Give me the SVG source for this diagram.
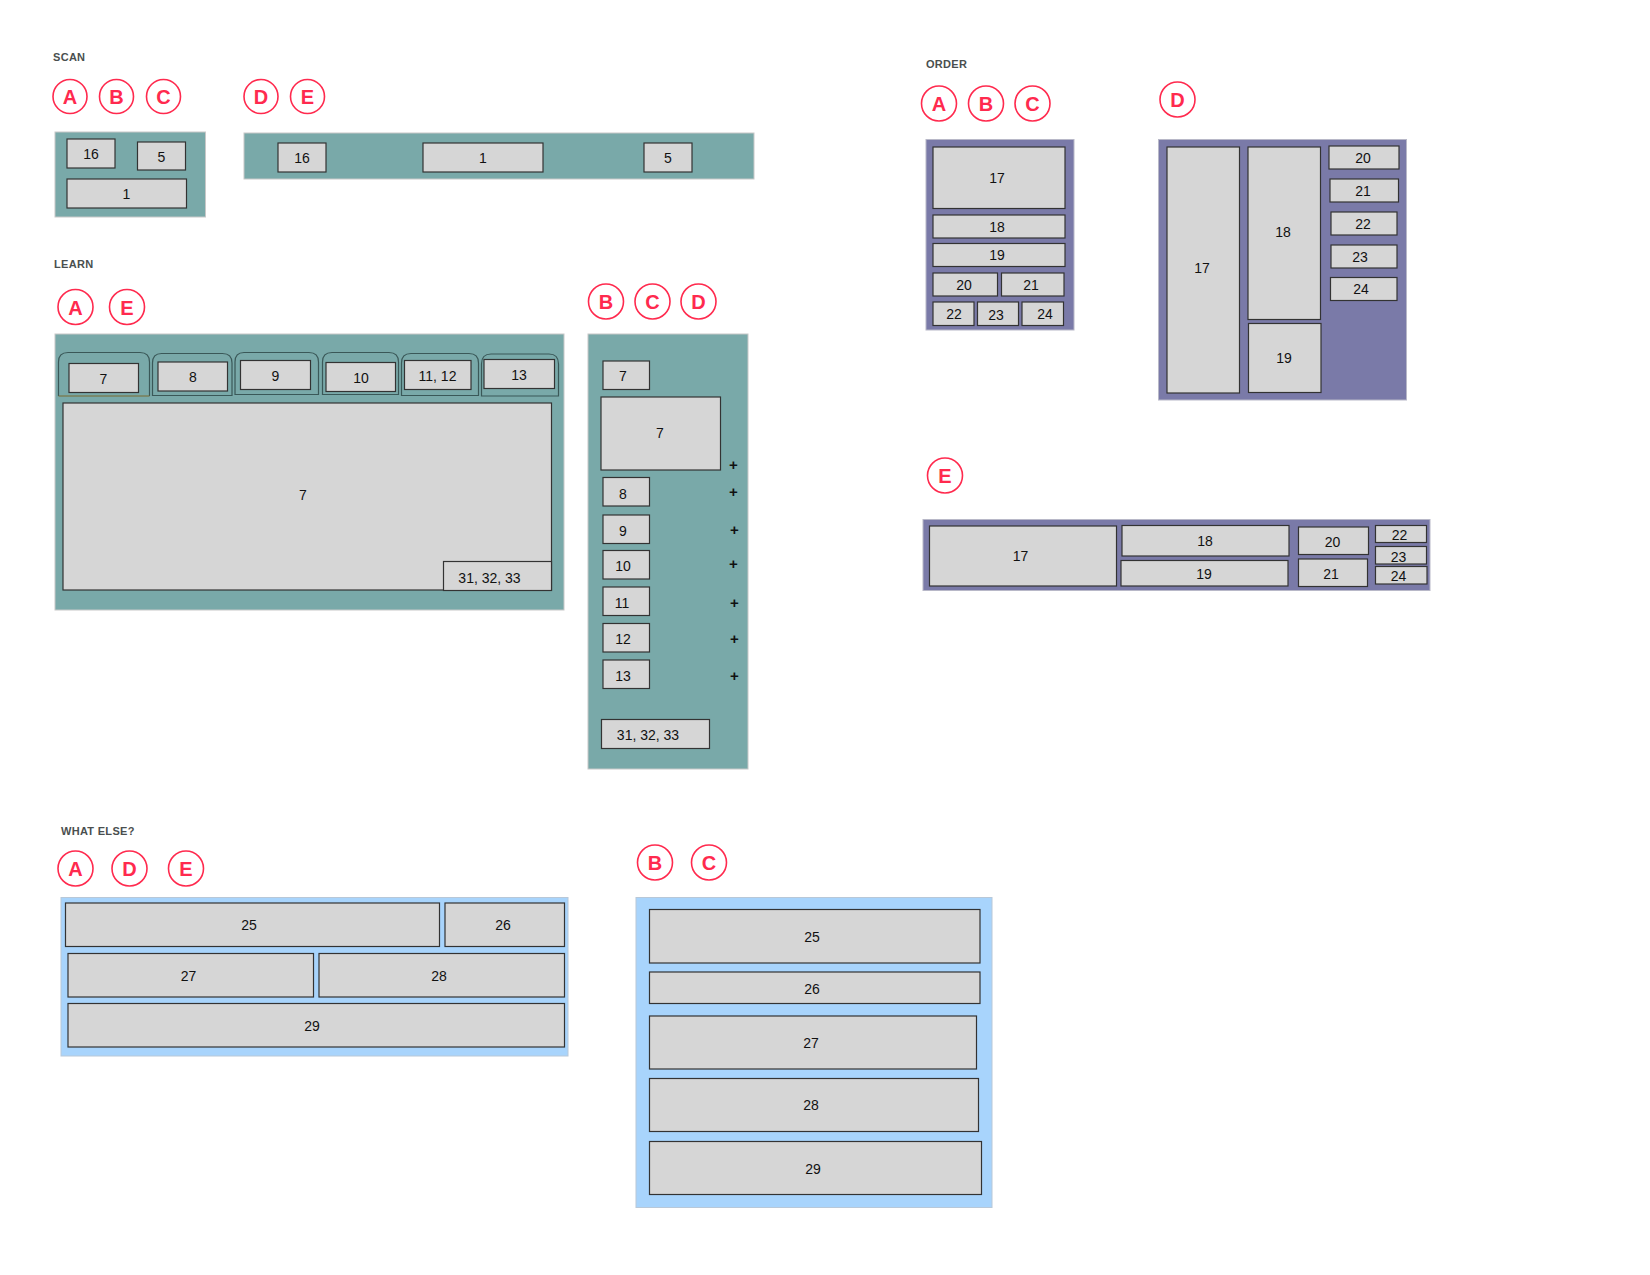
<svg xmlns="http://www.w3.org/2000/svg" width="1650" height="1275" viewBox="0 0 1650 1275">
<style>
.bg{fill:#ffffff}
.teal{fill:#79a9a9;stroke:#c8c8c8;stroke-width:1}
.purple{fill:#7a7aa8;stroke:#b8b8c8;stroke-width:1}
.blue{fill:#a8d4fc;stroke:#b8c8d8;stroke-width:1}
.item{fill:#d6d6d6;stroke:#333333;stroke-width:1.2}
.tab{fill:#79a9a9;stroke:#3a5858;stroke-width:1.2}
.lbl{font-family:"Liberation Sans",Arial,sans-serif;font-size:14px;fill:#111111;text-anchor:middle;dominant-baseline:central}
.sec{font-family:"Liberation Sans",Arial,sans-serif;font-size:11px;font-weight:bold;fill:#4a4f4f;letter-spacing:0.3px}
.badge circle{fill:#ffffff;stroke:#ff2a4e;stroke-width:1.6}
.badge text{font-family:"Liberation Sans",Arial,sans-serif;font-size:20px;font-weight:bold;fill:#ff2a4e;text-anchor:middle;dominant-baseline:central}
.plus{font-family:"Liberation Sans",Arial,sans-serif;font-size:15px;font-weight:bold;fill:#111111;text-anchor:middle;dominant-baseline:central}
</style>
<rect class="bg" x="0" y="0" width="1650" height="1275"/>

<!-- SCAN -->
<g id="scan">
<text class="sec" x="53" y="61">SCAN</text>
<g class="badge" id="scan-badges">
<circle cx="70" cy="96.5" r="17"/><text x="70" y="97">A</text>
<circle cx="116.5" cy="96.5" r="17"/><text x="116.5" y="97">B</text>
<circle cx="163.5" cy="96.5" r="17"/><text x="163.5" y="97">C</text>
<circle cx="261" cy="96.5" r="17"/><text x="261" y="97">D</text>
<circle cx="307.5" cy="96.5" r="17"/><text x="307.5" y="97">E</text>
</g>
<g id="scan-abc">
<rect class="teal" x="55" y="132" width="150.5" height="85"/>
<rect class="item" x="67" y="139" width="48" height="29"/><text class="lbl" x="91" y="154">16</text>
<rect class="item" x="137.5" y="142" width="48" height="28"/><text class="lbl" x="161.5" y="157">5</text>
<rect class="item" x="67" y="179" width="119.5" height="29"/><text class="lbl" x="126.5" y="194">1</text>
</g>
<g id="scan-de">
<rect class="teal" x="244" y="133" width="510" height="46"/>
<rect class="item" x="278" y="143" width="48" height="29"/><text class="lbl" x="302" y="158">16</text>
<rect class="item" x="423" y="143" width="120" height="29"/><text class="lbl" x="483" y="158">1</text>
<rect class="item" x="644" y="143" width="48" height="29"/><text class="lbl" x="668" y="158">5</text>
</g>
</g>

<!-- LEARN -->
<g id="learn">
<text class="sec" x="54" y="268">LEARN</text>
<g class="badge" id="learn-badges-ae">
<circle cx="75.5" cy="307" r="17.5"/><text x="75.5" y="307.5">A</text>
<circle cx="127" cy="307" r="17.5"/><text x="127" y="307.5">E</text>
</g>
<g id="learn-ae">
<rect class="teal" x="55" y="334" width="509" height="276"/>
<path class="tab" d="M58.5,396 V362 Q58.5,352.5 68,352.5 H140 Q149.5,352.5 149.5,362 V396"/>
<line x1="58.5" y1="396" x2="149.5" y2="396" stroke="#7a6a30" stroke-width="1"/>
<rect class="item" x="69" y="363.5" width="69.5" height="29"/><text class="lbl" x="103.5" y="379">7</text>
<path class="tab" d="M152.5,395.5 V363 Q152.5,353.5 161.5,353.5 H222.5 Q232,353.5 232,363 V395.5 Z"/>
<rect class="item" x="158" y="362" width="69.5" height="29"/><text class="lbl" x="193" y="377">8</text>
<path class="tab" d="M235,394.5 V362 Q235,352.5 244,352.5 H309 Q318.5,352.5 318.5,362 V394.5 Z"/>
<rect class="item" x="240.5" y="360.5" width="70" height="29"/><text class="lbl" x="275.5" y="375.5">9</text>
<path class="tab" d="M322.5,394.5 V362 Q322.5,352.5 332,352.5 H389 Q398.5,352.5 398.5,362 V394.5 Z"/>
<rect class="item" x="326" y="362.5" width="69.5" height="29"/><text class="lbl" x="361" y="378">10</text>
<path class="tab" d="M401.5,395.5 V363 Q401.5,353.5 411,353.5 H469 Q478.5,353.5 478.5,363 V395.5 Z"/>
<rect class="item" x="404.5" y="360.5" width="66.5" height="29"/><text class="lbl" x="437.5" y="376">11, 12</text>
<path class="tab" d="M481.5,396 V364 Q481.5,354 491,354 H549 Q558.5,354 558.5,364 V396 Z"/>
<rect class="item" x="484" y="359.5" width="70.5" height="29"/><text class="lbl" x="519" y="375">13</text>
<rect class="item" x="63" y="403" width="488.5" height="187"/><text class="lbl" x="303" y="495">7</text>
<rect class="item" x="443.5" y="561.5" width="108" height="29"/><text class="lbl" x="489.5" y="578">31, 32, 33</text>
</g>
<g class="badge" id="learn-badges-bcd">
<circle cx="606" cy="301.5" r="17.5"/><text x="606" y="302">B</text>
<circle cx="652.5" cy="301.5" r="17.5"/><text x="652.5" y="302">C</text>
<circle cx="698.5" cy="301.5" r="17.5"/><text x="698.5" y="302">D</text>
</g>
<g id="learn-bcd">
<rect class="teal" x="588" y="334" width="160" height="435"/>
<rect class="item" x="603" y="361" width="46.5" height="28.5"/><text class="lbl" x="623" y="376">7</text>
<rect class="item" x="601" y="397" width="119.5" height="73"/><text class="lbl" x="660" y="433">7</text>
<rect class="item" x="603" y="477.5" width="46.5" height="28.5"/><text class="lbl" x="623" y="494">8</text>
<rect class="item" x="603" y="515" width="46.5" height="28.5"/><text class="lbl" x="623" y="531">9</text>
<rect class="item" x="603" y="550.5" width="46.5" height="28.5"/><text class="lbl" x="623" y="566">10</text>
<rect class="item" x="603" y="587" width="46.5" height="28.5"/><text class="lbl" x="622" y="603">11</text>
<rect class="item" x="603" y="623.5" width="46.5" height="28.5"/><text class="lbl" x="623" y="639">12</text>
<rect class="item" x="603" y="660" width="46.5" height="28.5"/><text class="lbl" x="623" y="676">13</text>
<rect class="item" x="601.5" y="719.5" width="108" height="29"/><text class="lbl" x="648" y="735">31, 32, 33</text>
<text class="plus" x="733.5" y="464">+</text>
<text class="plus" x="733.5" y="491">+</text>
<text class="plus" x="734.5" y="529.5">+</text>
<text class="plus" x="733.5" y="563">+</text>
<text class="plus" x="734.5" y="602">+</text>
<text class="plus" x="734.5" y="638">+</text>
<text class="plus" x="734.5" y="675">+</text>
</g>
</g>

<!-- ORDER -->
<g id="order">
<text class="sec" x="926" y="68">ORDER</text>
<g class="badge" id="order-badges-abc">
<circle cx="939" cy="103.5" r="17.5"/><text x="939" y="104">A</text>
<circle cx="986" cy="103.5" r="17.5"/><text x="986" y="104">B</text>
<circle cx="1032.5" cy="103.5" r="17.5"/><text x="1032.5" y="104">C</text>
</g>
<g id="order-abc">
<rect class="purple" x="926" y="139.5" width="148" height="190.5"/>
<rect class="item" x="933" y="147" width="132" height="61.5"/><text class="lbl" x="997" y="178">17</text>
<rect class="item" x="933" y="215" width="132" height="23"/><text class="lbl" x="997" y="227">18</text>
<rect class="item" x="933" y="243.5" width="132" height="23"/><text class="lbl" x="997" y="255">19</text>
<rect class="item" x="933" y="273" width="64.5" height="23"/><text class="lbl" x="964" y="285">20</text>
<rect class="item" x="1001.5" y="273" width="62.5" height="23"/><text class="lbl" x="1031" y="285">21</text>
<rect class="item" x="933" y="302" width="41" height="23.5"/><text class="lbl" x="954" y="314">22</text>
<rect class="item" x="977.5" y="302" width="41" height="23.5"/><text class="lbl" x="996" y="315">23</text>
<rect class="item" x="1022" y="302" width="41.5" height="23.5"/><text class="lbl" x="1045" y="314">24</text>
</g>
<g class="badge" id="order-badge-d">
<circle cx="1177.5" cy="99.5" r="17.5"/><text x="1177.5" y="100">D</text>
</g>
<g id="order-d">
<rect class="purple" x="1158.5" y="139.5" width="248" height="260.5"/>
<rect class="item" x="1167" y="147" width="72.5" height="246"/><text class="lbl" x="1202" y="268">17</text>
<rect class="item" x="1248" y="147" width="72.5" height="172.5"/><text class="lbl" x="1283" y="232">18</text>
<rect class="item" x="1248.5" y="323.5" width="72.5" height="69"/><text class="lbl" x="1284" y="358">19</text>
<rect class="item" x="1329" y="146" width="70" height="23"/><text class="lbl" x="1363" y="158">20</text>
<rect class="item" x="1330" y="179" width="68.5" height="23"/><text class="lbl" x="1363" y="191">21</text>
<rect class="item" x="1331" y="212" width="66" height="23"/><text class="lbl" x="1363" y="224">22</text>
<rect class="item" x="1331" y="245" width="66" height="23"/><text class="lbl" x="1360" y="257">23</text>
<rect class="item" x="1330.5" y="277.5" width="66.5" height="23"/><text class="lbl" x="1361" y="289">24</text>
</g>
<g class="badge" id="order-badge-e">
<circle cx="945" cy="475.5" r="17.5"/><text x="945" y="476">E</text>
</g>
<g id="order-e">
<rect class="purple" x="923" y="519.5" width="507" height="71"/>
<rect class="item" x="929.5" y="526" width="187" height="60"/><text class="lbl" x="1020.5" y="556">17</text>
<rect class="item" x="1122" y="525.5" width="167" height="30.5"/><text class="lbl" x="1205" y="541">18</text>
<rect class="item" x="1121" y="560.5" width="167" height="25.5"/><text class="lbl" x="1204" y="574">19</text>
<rect class="item" x="1298.5" y="527" width="70" height="27.5"/><text class="lbl" x="1332.5" y="542">20</text>
<rect class="item" x="1298.5" y="559" width="69" height="27.5"/><text class="lbl" x="1331" y="574">21</text>
<rect class="item" x="1375.5" y="525.5" width="51" height="17"/><text class="lbl" x="1399.5" y="534.5">22</text>
<rect class="item" x="1375.5" y="546.5" width="51" height="17.5"/><text class="lbl" x="1398.5" y="557">23</text>
<rect class="item" x="1375.5" y="566.5" width="51.5" height="17.5"/><text class="lbl" x="1398.5" y="576">24</text>
</g>
</g>

<!-- WHAT ELSE -->
<g id="whatelse">
<text class="sec" x="61" y="835">WHAT ELSE?</text>
<g class="badge" id="we-badges-ade">
<circle cx="75.5" cy="868.5" r="17.5"/><text x="75.5" y="869">A</text>
<circle cx="129.5" cy="868.5" r="17.5"/><text x="129.5" y="869">D</text>
<circle cx="186" cy="868.5" r="17.5"/><text x="186" y="869">E</text>
</g>
<g id="we-ade">
<rect class="blue" x="61" y="897.5" width="507" height="158.5"/>
<rect class="item" x="65.5" y="903" width="374" height="43.5"/><text class="lbl" x="249" y="925">25</text>
<rect class="item" x="445" y="903" width="119.5" height="43.5"/><text class="lbl" x="503" y="925">26</text>
<rect class="item" x="68" y="953.5" width="245.5" height="43.5"/><text class="lbl" x="188.5" y="976">27</text>
<rect class="item" x="319" y="953.5" width="245.5" height="43.5"/><text class="lbl" x="439" y="976">28</text>
<rect class="item" x="68" y="1003.5" width="496.5" height="43.5"/><text class="lbl" x="312" y="1026">29</text>
</g>
<g class="badge" id="we-badges-bc">
<circle cx="655" cy="862.5" r="17.5"/><text x="655" y="863">B</text>
<circle cx="709" cy="862.5" r="17.5"/><text x="709" y="863">C</text>
</g>
<g id="we-bc">
<rect class="blue" x="636" y="897.5" width="356" height="310"/>
<rect class="item" x="649.5" y="909.5" width="330.5" height="53.5"/><text class="lbl" x="812" y="937">25</text>
<rect class="item" x="649.5" y="972" width="330.5" height="31.5"/><text class="lbl" x="812" y="989">26</text>
<rect class="item" x="649.5" y="1016" width="327" height="53"/><text class="lbl" x="811" y="1043">27</text>
<rect class="item" x="649.5" y="1078.5" width="329" height="53"/><text class="lbl" x="811" y="1105">28</text>
<rect class="item" x="649.5" y="1141.5" width="332" height="53"/><text class="lbl" x="813" y="1169">29</text>
</g>
</g>

<g id="connectors"></g>
</svg>
